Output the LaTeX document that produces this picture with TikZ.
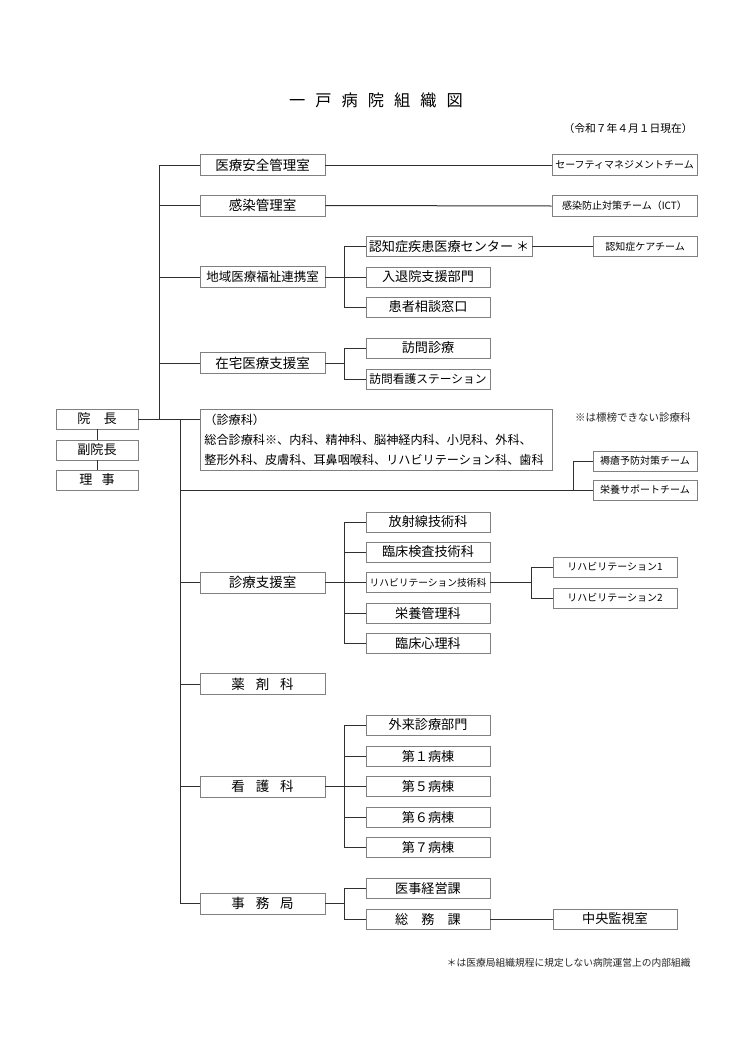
\documentclass[tikz,border=0pt]{standalone}
\usepackage{fontspec}
\setmainfont{Noto Sans CJK JP}
\definecolor{bordergray}{HTML}{808080}
\definecolor{linecol}{HTML}{303030}
\tikzset{
  bx/.style={draw=bordergray, line width=0.6pt, fill=white, inner sep=0pt,
             minimum height=20*0.8pt},
  bw/.style={minimum width=#1*0.8pt},
  bh/.style={minimum height=#1*0.8pt},
  fmain/.style={font=\fontsize{10.8}{13}\selectfont},
  fsub/.style={font=\fontsize{10.5}{13}\selectfont},
  fteam/.style={font=\fontsize{8}{10}\selectfont},
  conn/.style={draw=linecol, line width=0.8pt},
}
\newcommand{\gapsp}[1][0.8em]{\hspace{#1}}
\begin{document}
\begin{tikzpicture}[x=0.8pt, y=-0.8pt]
\useasboundingbox[fill=white] (0,0) rectangle (744,1052);

% title and notes
\node[font=\fontsize{13}{15}\selectfont] (title) at (376,100)
  {一\hspace{8pt}戸\hspace{8pt}病\hspace{8pt}院\hspace{8pt}組\hspace{8pt}織\hspace{8pt}図};
\node[anchor=east, font=\fontsize{8.6}{10}\selectfont] (date) at (697,128) {（令和７年４月１日現在）};
\node[anchor=east, font=\fontsize{8.4}{10}\selectfont, text=black!85] (note1) at (695,418) {※は標榜できない診療科};
\node[anchor=east, font=\fontsize{7.8}{10}\selectfont, text=black!85] (note2) at (695,963) {＊は医療局組織規程に規定しない病院運営上の内部組織};

% leaders
\node[bx, bw=82, fsub] (inc)  at (97,419) {院\gapsp[1em]長};
\node[bx, bw=82, fsub] (fuku) at (97,450) {副院長};
\node[bx, bw=82, fsub] (riji) at (97,480) {理\gapsp[0.7em]事};

% main boxes
\node[bx, bw=125, bh=21, fmain] (ms1) at (262.5,165) {医療安全管理室};
\node[bx, bw=125, bh=21, fmain] (ms2) at (262.5,205.5) {感染管理室};
\node[bx, bw=125, bh=21, font=\fontsize{10}{12}\selectfont] (ms3) at (262.5,277) {地域医療福祉連携室};
\node[bx, bw=125, bh=21, fmain] (ms4) at (262.5,363) {在宅医療支援室};
\node[bx, anchor=north west, bw=352, bh=61, text width=344*0.8pt, align=left,
      inner xsep=3pt, font=\fontsize{9.7}{16}\selectfont] (shinryo) at (200,409)
  {（診療科）\\総合診療科※、内科、精神科、脳神経内科、小児科、外科、\\整形外科、皮膚科、耳鼻咽喉科、リハビリテーション科、歯科};
\node[bx, bw=125, bh=21, fmain] (ms5) at (262.5,582.5) {診療支援室};
\node[bx, bw=125, bh=21, fmain] (ms6) at (262.5,684) {薬\gapsp 剤\gapsp 科};
\node[bx, bw=125, bh=21, fmain] (ms7) at (262.5,786.5) {看\gapsp 護\gapsp 科};
\node[bx, bw=125, bh=21, fmain] (ms8) at (262.5,903.5) {事\gapsp 務\gapsp 局};

% team boxes
\node[bx, bw=145, bh=21, fteam] (t1) at (624.5,165) {セーフティマネジメントチーム};
\node[bx, bw=145, bh=21, fteam] (t2) at (624.5,206) {感染防止対策チーム（ICT）};
\node[bx, bw=104, fteam] (t3) at (645,246.5) {認知症ケアチーム};
\node[bx, bw=104, fteam] (t4) at (645,461) {褥瘡予防対策チーム};
\node[bx, bw=104, fteam] (t5) at (645,490) {栄養サポートチーム};

% sub boxes
\node[bx, bw=166, fsub] (s1) at (449,246.5) {認知症疾患医療センター ＊};
\node[bx, bw=124, fsub] (s2) at (428,277) {入退院支援部門};
\node[bx, bw=124, fsub] (s3) at (428,307) {患者相談窓口};
\node[bx, bw=124, fsub] (s4) at (428,348) {訪問診療};
\node[bx, bw=124, font=\fontsize{9.4}{11}\selectfont] (s5) at (428,379) {訪問看護ステーション};
\node[bx, bw=124, fsub] (s6) at (428,522) {放射線技術科};
\node[bx, bw=124, fsub] (s7) at (428,552) {臨床検査技術科};
\node[bx, bw=124, font=\fontsize{7.8}{10}\selectfont] (s8) at (428,582.5) {リハビリテーション技術科};
\node[bx, bw=124, fsub] (s9) at (428,613) {栄養管理科};
\node[bx, bw=124, fsub] (s10) at (428,643.5) {臨床心理科};
\node[bx, bw=124, fsub] (s11) at (428,725) {外来診療部門};
\node[bx, bw=124, fsub] (s12) at (428,756) {第１病棟};
\node[bx, bw=124, fsub] (s13) at (428,786.5) {第５病棟};
\node[bx, bw=124, fsub] (s14) at (428,817) {第６病棟};
\node[bx, bw=124, fsub] (s15) at (428,847.5) {第７病棟};
\node[bx, bw=124, fsub] (s16) at (428,888.5) {医事経営課};
\node[bx, bw=124, fsub] (s17) at (428,919) {総\gapsp[1em]務\gapsp[1em]課};

% right boxes
\node[bx, bw=124, fteam] (r1) at (615,567) {リハビリテーション1};
\node[bx, bw=124, fteam] (r2) at (615,598) {リハビリテーション2};
\node[bx, bw=124, fsub] (r3) at (615,919) {中央監視室};

% junction coordinates
\coordinate (j0) at (159,419);
\coordinate (j1) at (180,419);
\coordinate (tj) at (573,490);

% connectors
\begin{scope}[conn]
  % leaders
  \draw (inc.south) -- (fuku.north);
  \draw (fuku.south) -- (riji.north);
  \draw (inc.east) -- (inc.east -| shinryo.west);
  % upper trunk
  \draw (ms1.west) -| (j0);
  \draw (ms2.west) -- (ms2.west -| j0);
  \draw (ms3.west) -- (ms3.west -| j0);
  \draw (ms4.west) -- (ms4.west -| j0);
  % lower trunk
  \draw (j1) |- (ms8.west);
  \draw (ms5.west) -- (ms5.west -| j1);
  \draw (ms6.west) -- (ms6.west -| j1);
  \draw (ms7.west) -- (ms7.west -| j1);
  % teams
  \draw (ms1.east) -- (t1.west);
  \draw (ms2.east) -- (t2.west);
  \draw (s1.east) -- (t3.west);
  \draw (tj -| j1) -- (t5.west);
  \draw (t4.west) -| (tj);
  % 地域医療福祉連携室
  \draw (ms3.east) -- (s2.west);
  \draw (s1.west) -- ++(-21,0) |- (s3.west);
  % 在宅医療支援室
  \draw (ms4.east) -- ++(20,0);
  \draw (s4.west) -- ++(-21,0) |- (s5.west);
  % 診療支援室
  \draw (ms5.east) -- (s8.west);
  \draw (s6.west) -- ++(-21,0) |- (s10.west);
  \draw (s7.west) -- ++(-21,0);
  \draw (s9.west) -- ++(-21,0);
  \draw (s8.east) -- ++(42,0);
  \draw (r1.west) -- ++(-21,0) |- (r2.west);
  % 看護科
  \draw (ms7.east) -- (s13.west);
  \draw (s11.west) -- ++(-21,0) |- (s15.west);
  \draw (s12.west) -- ++(-21,0);
  \draw (s14.west) -- ++(-21,0);
  % 事務局
  \draw (ms8.east) -- ++(20,0);
  \draw (s16.west) -- ++(-21,0) |- (s17.west);
  \draw (s17.east) -- (r3.west);
\end{scope}
\end{tikzpicture}
\end{document}
